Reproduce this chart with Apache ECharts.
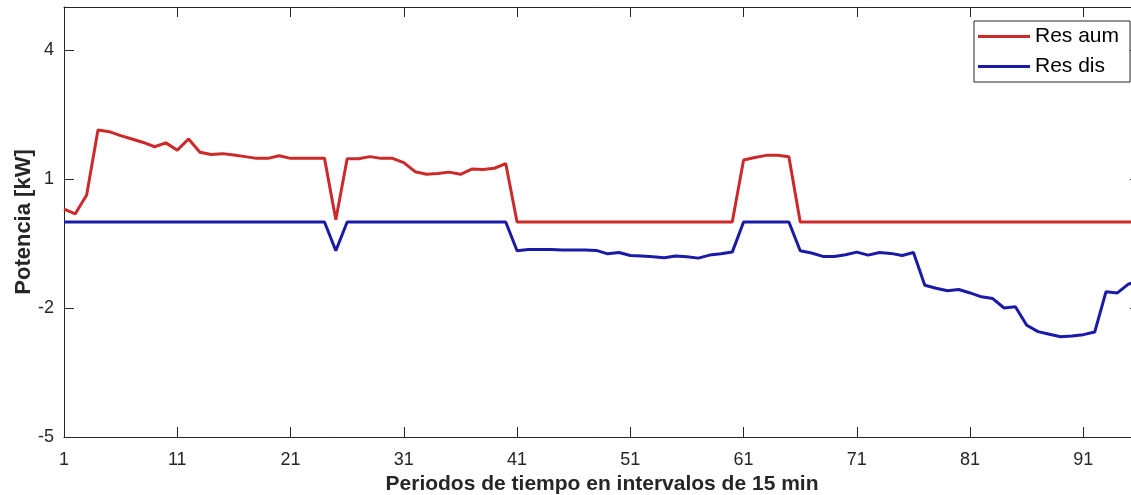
<!DOCTYPE html>
<html>
<head>
<meta charset="utf-8">
<script src="https://cdn.jsdelivr.net/npm/echarts@6/dist/echarts.min.js"></script>
<style>
html,body{margin:0;padding:0;background:#fff;overflow:hidden;}
#chart{width:1131px;height:495px;}
</style>
</head>
<body>
<div id="chart"></div>
<script>
// Periods 1..96 (15-min intervals)
const periods = Array.from({length: 96}, (_, i) => i + 1);
const xTickValues = [1, 11, 21, 31, 41, 51, 61, 71, 81, 91];
const yTickValues = [-5, -2, 1, 4];

const resAum = [
  0.30, 0.19, 0.63, 2.14, 2.10, 2.01, 1.93, 1.85, 1.75, 1.84,
  1.67, 1.93, 1.62, 1.57, 1.59, 1.56, 1.52, 1.48, 1.48, 1.54,
  1.48, 1.48, 1.48, 1.48, 0.05, 1.47, 1.47, 1.52, 1.48, 1.48,
  1.38, 1.17, 1.11, 1.13, 1.16, 1.11, 1.23, 1.22, 1.25, 1.36,
  0, 0, 0, 0, 0, 0, 0, 0, 0, 0,
  0, 0, 0, 0, 0, 0, 0, 0, 0, 0,
  1.44, 1.50, 1.55, 1.55, 1.52, 0, 0, 0, 0, 0,
  0, 0, 0, 0, 0, 0, 0, 0, 0, 0,
  0, 0, 0, 0, 0, 0, 0, 0, 0, 0,
  0, 0, 0, 0, 0, 0
];

const resDis = [
  0, 0, 0, 0, 0, 0, 0, 0, 0, 0,
  0, 0, 0, 0, 0, 0, 0, 0, 0, 0,
  0, 0, 0, 0, -0.67, 0, 0, 0, 0, 0,
  0, 0, 0, 0, 0, 0, 0, 0, 0, 0,
  -0.67, -0.64, -0.64, -0.64, -0.65, -0.65, -0.65, -0.66, -0.74, -0.71,
  -0.78, -0.79, -0.81, -0.83, -0.79, -0.81, -0.84, -0.77, -0.74, -0.70,
  0, 0, 0, 0, 0, -0.67, -0.72, -0.80, -0.80, -0.76,
  -0.70, -0.77, -0.71, -0.73, -0.78, -0.71, -1.47, -1.54, -1.60, -1.57,
  -1.65, -1.74, -1.78, -2.00, -1.97, -2.40, -2.55, -2.61, -2.67, -2.65,
  -2.62, -2.56, -1.62, -1.65, -1.44, -1.38
];

const seriesNames = ['Res aum', 'Res dis'];
const seriesColors = ['#cc2a2a', '#1a1aa6'];

const FONT = "'Liberation Sans', Arial, sans-serif";
const AX = '#262626';

const chart = echarts.init(document.getElementById('chart'), null, {renderer: 'canvas'});

const xBase = {
  type: 'value', min: 1, max: 96,
  splitLine: {show: false},
  axisLine: {show: true, onZero: false, lineStyle: {color: AX, width: 1}},
  axisTick: {show: true, inside: true, length: 10, customValues: xTickValues, lineStyle: {color: AX}},
};
const yBase = {
  type: 'value', min: -5, max: 5,
  splitLine: {show: false},
  axisLine: {show: true, onZero: false, lineStyle: {color: AX, width: 1}},
  axisTick: {show: true, inside: true, length: 10, customValues: yTickValues, lineStyle: {color: AX}},
};

chart.setOption({
  backgroundColor: '#fff',
  animation: false,
  grid: {left: 64, top: 7, width: 1076, height: 430, containLabel: false, outerBoundsMode: 'none'},
  legend: {
    data: seriesNames.map((n) => ({name: n, icon: 'rect'})),
    orient: 'vertical',
    left: 974, top: 21,
    padding: [5, 11, 5, 4],
    itemWidth: 52, itemHeight: 3, itemGap: 9,
    backgroundColor: '#fff',
    borderColor: AX, borderWidth: 1, borderRadius: 0,
    textStyle: {fontFamily: FONT, fontSize: 21, color: '#000', lineHeight: 20}
  },
  xAxis: [
    Object.assign({}, xBase, {
      position: 'bottom',
      axisLabel: {show: true, customValues: xTickValues, margin: 14, fontFamily: FONT, fontSize: 18, color: AX},
      name: 'Periodos de tiempo en intervalos de 15 min',
      nameLocation: 'middle', nameGap: 37,
      nameTextStyle: {fontFamily: FONT, fontSize: 21, fontWeight: 'bold', color: AX}
    }),
    Object.assign({}, xBase, {position: 'top', axisLabel: {show: false}})
  ],
  yAxis: [
    Object.assign({}, yBase, {
      position: 'left',
      axisLabel: {show: true, customValues: yTickValues, margin: 10, fontFamily: FONT, fontSize: 18, color: AX},
      name: 'Potencia [kW]',
      nameLocation: 'middle', nameGap: 29, nameMoveOverlap: false,
      nameTextStyle: {fontFamily: FONT, fontSize: 22, fontWeight: 'bold', color: AX}
    }),
    Object.assign({}, yBase, {position: 'right', axisLabel: {show: false}})
  ],
  series: [
    {
      name: seriesNames[0], type: 'line', xAxisIndex: 0, yAxisIndex: 0,
      data: periods.map((p, i) => [p, resAum[i]]),
      symbol: 'none', smooth: false,
      color: seriesColors[0],
      itemStyle: {color: seriesColors[0]},
      lineStyle: {color: seriesColors[0], width: 3},
      z: 3
    },
    {
      name: seriesNames[1], type: 'line', xAxisIndex: 0, yAxisIndex: 0,
      data: periods.map((p, i) => [p, resDis[i]]),
      symbol: 'none', smooth: false,
      color: seriesColors[1],
      itemStyle: {color: seriesColors[1]},
      lineStyle: {color: seriesColors[1], width: 3},
      z: 2
    }
  ]
});
</script>
</body>
</html>
